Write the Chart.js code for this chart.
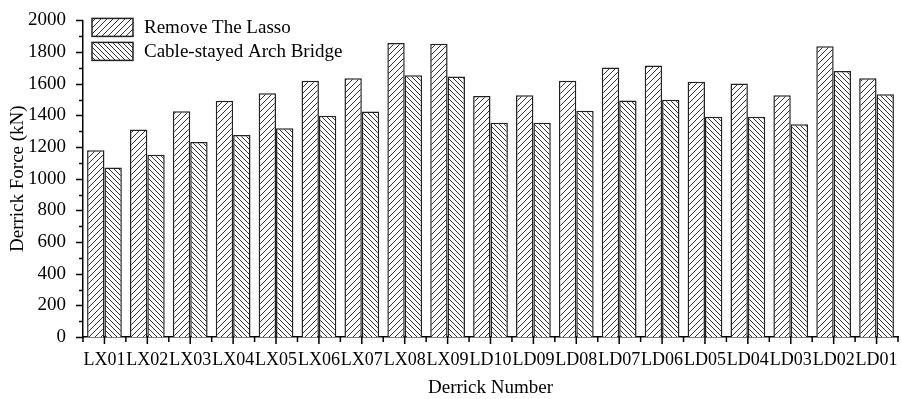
<!DOCTYPE html>
<html>
<head>
<meta charset="utf-8">
<script src="https://cdn.jsdelivr.net/npm/chart.js@4.4.1/dist/chart.umd.min.js"></script>
<style>
  body { margin: 0; background: #fff; }
  #wrap { width: 902px; height: 399px; }
</style>
</head>
<body>
<div id="wrap"><canvas id="barChart"></canvas></div>
<script>
// Data
const derricks = ["LX01", "LX02", "LX03", "LX04", "LX05", "LX06", "LX07", "LX08", "LX09",
  "LD10", "LD09", "LD08", "LD07", "LD06", "LD05", "LD04", "LD03", "LD02", "LD01"];
const removeLasso = [1180, 1311, 1426, 1492, 1540, 1618, 1635, 1858, 1853,
  1523, 1527, 1618, 1703, 1715, 1612, 1602, 1527, 1837, 1635];
const cableStayed = [1071, 1152, 1232, 1276, 1319, 1397, 1424, 1653, 1645,
  1354, 1354, 1430, 1494, 1498, 1391, 1391, 1344, 1680, 1534];
const seriesNames = ["Remove The Lasso", "Cable-stayed Arch Bridge"];
const yMax = 2000;
const yStep = 200;

const serif = "'Liberation Serif', 'Times New Roman', serif";

// Hatch pattern: dir 1 = "////", dir -1 = "\\\\"
function hatch(dir, size) {
  const c = document.createElement("canvas");
  c.width = size; c.height = size;
  const g = c.getContext("2d");
  g.fillStyle = "#fff";
  g.fillRect(0, 0, size, size);
  g.strokeStyle = "#333";
  g.lineWidth = 1;
  g.beginPath();
  if (dir > 0) {
    g.moveTo(-1, size + 1); g.lineTo(size + 1, -1);
    g.moveTo(-1, 1); g.lineTo(1, -1);
    g.moveTo(size - 1, size + 1); g.lineTo(size + 1, size - 1);
  } else {
    g.moveTo(-1, -1); g.lineTo(size + 1, size + 1);
    g.moveTo(size - 1, -1); g.lineTo(size + 1, 1);
    g.moveTo(-1, size - 1); g.lineTo(1, size + 1);
  }
  g.stroke();
  return g.createPattern(c, "repeat");
}

const ctx = document.getElementById("barChart").getContext("2d");
const fills = [hatch(1, 6), hatch(-1, 5)];

// Axis ticks (major + minor) drawn by hand
const ticksPlugin = {
  id: "ticksPlugin",
  afterDraw(chart) {
    const c = chart.ctx;
    const x = chart.scales.x, y = chart.scales.y;
    c.save();
    c.strokeStyle = "#000";
    c.lineWidth = 1.5;
    c.beginPath();
    for (let v = 0; v <= yMax; v += yStep / 2) {
      const py = Math.round(y.getPixelForValue(v)) + 0.5;
      const len = v % yStep === 0 ? 7 : 4;
      c.moveTo(y.right, py); c.lineTo(y.right - len, py);
    }
    const n = derricks.length;
    for (let i = 0; i < n; i++) {
      const px = x.getPixelForValue(i);
      c.moveTo(px, x.top); c.lineTo(px, x.top + 7);
    }
    const w = (x.right - x.left) / n;
    for (let i = 0; i <= n; i++) {
      const px = x.left + i * w;
      c.moveTo(px, x.top); c.lineTo(px, x.top + 5);
    }
    c.stroke();
    c.restore();
  }
};

// Legend drawn inside plot area, top-left
const legendPlugin = {
  id: "legendPlugin",
  afterDraw(chart) {
    const c = chart.ctx;
    const a = chart.chartArea;
    c.save();
    c.font = "19px " + serif;
    c.textBaseline = "middle";
    seriesNames.forEach((name, i) => {
      const bx = a.left + 9, by = a.top - 2 + i * 24;
      c.fillStyle = fills[i];
      c.fillRect(bx, by, 41, 18);
      c.strokeStyle = "#222";
      c.lineWidth = 1.5;
      c.strokeRect(bx, by, 41, 18);
      c.fillStyle = "#000";
      c.fillText(name, bx + 52, by + 10);
    });
    c.restore();
  }
};

new Chart(ctx, {
  type: "bar",
  data: {
    labels: derricks,
    datasets: [
      { label: seriesNames[0], data: removeLasso, backgroundColor: fills[0],
        borderColor: "#222", borderWidth: 1.5 },
      { label: seriesNames[1], data: cableStayed, backgroundColor: fills[1],
        borderColor: "#222", borderWidth: 1.5 }
    ]
  },
  options: {
    responsive: true,
    maintainAspectRatio: false,
    animation: false,
    layout: { padding: { top: 14, right: 4, left: 0, bottom: 0 } },
    datasets: { bar: { categoryPercentage: 0.81, barPercentage: 1.0 } },
    plugins: {
      legend: { display: false },
      tooltip: { enabled: false }
    },
    scales: {
      x: {
        grid: { display: false },
        border: { display: true, color: "#000", width: 1.5 },
        ticks: { color: "#000", font: { family: serif, size: 18 }, padding: 4,
          maxRotation: 0, autoSkip: false },
        title: { display: true, text: "Derrick Number", color: "#000",
          font: { family: serif, size: 19 }, padding: { top: 4, bottom: 0 } },
        afterFit(scale) { scale.height = 62; }
      },
      y: {
        min: 0,
        max: yMax,
        grid: { display: false },
        border: { display: true, color: "#000", width: 1.5 },
        ticks: { stepSize: yStep, color: "#000", font: { family: serif, size: 19 }, padding: 9,
          callback: (v) => String(v) },
        title: { display: true, text: "Derrick Force (kN)", color: "#000",
          font: { family: serif, size: 19 }, padding: { top: 7, bottom: 0 } },
        afterFit(scale) { scale.width = 83; }
      }
    }
  },
  plugins: [ticksPlugin, legendPlugin]
});
</script>
</body>
</html>
